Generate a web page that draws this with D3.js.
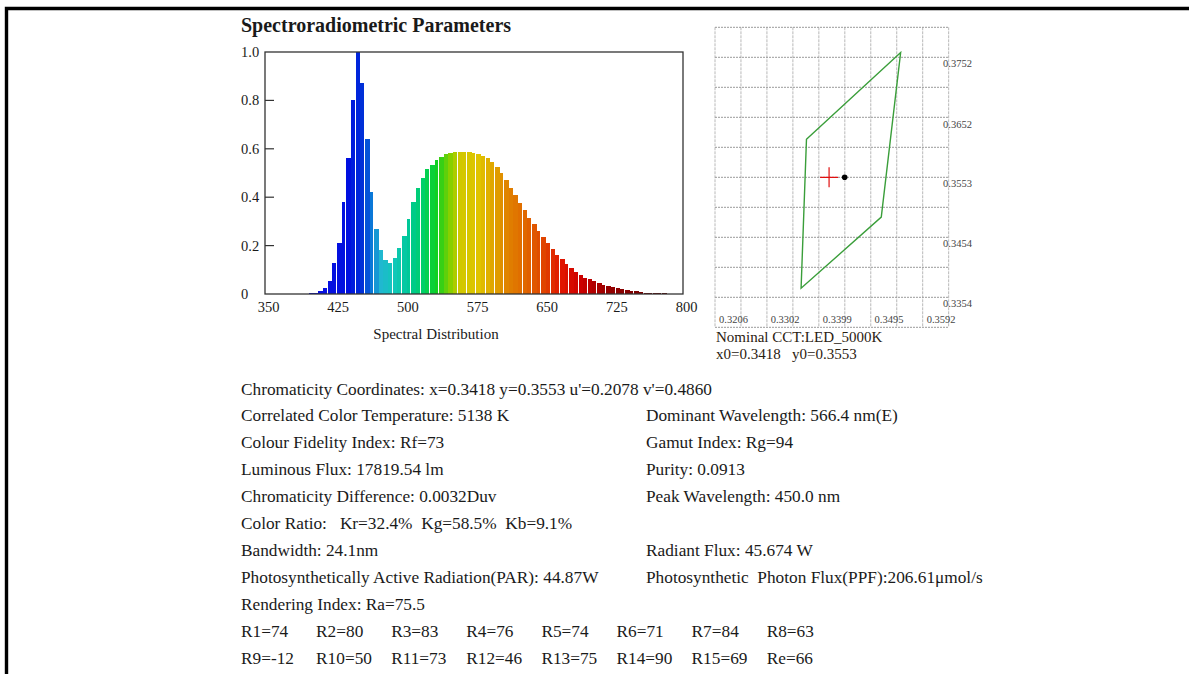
<!DOCTYPE html>
<html lang="en">
<head>
<meta charset="utf-8">
<title>Spectroradiometric Parameters</title>
<style>
  html, body { margin: 0; padding: 0; background: #fff; }
  svg text { font-family: "Liberation Serif", "Times New Roman", serif; fill: #1a1a1a; }
</style>
</head>
<body>
<svg id="chart" width="1189" height="674"></svg>
<script src="https://cdn.jsdelivr.net/npm/d3@7/dist/d3.min.js"></script>
<script>
// ---- spectrum (relative power, 5 nm steps) ----
var wavelengths = [380,385,390,395,400,405,410,415,420,425,430,435,440,445,450,455,460,465,470,475,
  480,485,490,495,500,505,510,515,520,525,530,535,540,545,550,555,560,565,570,575,
  580,585,590,595,600,605,610,615,620,625,630,635,640,645,650,655,660,665,670,675,
  680,685,690,695,700,705,710,715,720,725,730,735,740,745,750,755,760,765,770,775,780];
var power = [0.002,0.002,0.002,0.002,0.003,0.005,0.012,0.026,0.055,0.13,0.21,0.38,0.56,0.80,1.00,0.87,0.64,0.42,0.27,0.18,
  0.14,0.13,0.15,0.19,0.24,0.31,0.38,0.44,0.48,0.515,0.535,0.555,0.567,0.577,0.583,0.585,0.586,0.587,0.588,0.584,
  0.578,0.570,0.560,0.545,0.525,0.50,0.47,0.44,0.41,0.378,0.347,0.315,0.29,0.262,0.237,0.21,0.184,0.163,0.143,0.124,
  0.106,0.091,0.078,0.068,0.060,0.052,0.044,0.038,0.033,0.028,0.023,0.019,0.016,0.013,0.011,0.008,0.006,0.005,0.004,0.003,0.003];
var specXTicks = [350, 425, 500, 575, 650, 725, 800];
var specYTicks = [0, 0.2, 0.4, 0.6, 0.8, 1.0];

// wavelength -> colour stops
var colorStops = [380, 440, 455, 465, 475, 490, 505, 520, 535, 550, 560, 580, 595, 610, 630, 650, 670, 690, 720, 780];
var colorValues = ["#1010e0","#0010e0","#0030d8","#0a78d8","#20b8d0","#10c8b8","#00c898","#00d068","#10d020","#88d000",
  "#d0c800","#e0c400","#e0a800","#e08400","#e06800","#e04400","#e01400","#cc0000","#960000","#600000"];

// ---- chromaticity diagram ----
var cieXTicks = [0.3206, 0.3302, 0.3399, 0.3495, 0.3592];
var cieYTicks = [0.3354, 0.3454, 0.3553, 0.3652, 0.3752];
var quadrangle = [[0.3376, 0.3616], [0.3551, 0.3760], [0.3515, 0.3487], [0.3366, 0.3369]];
var measured = [0.3418, 0.3553];
var nominal = [0.3447, 0.3553];

// ---- parameter text ----
var leftLines = [
  "Chromaticity Coordinates: x=0.3418 y=0.3553 u'=0.2078 v'=0.4860",
  "Correlated Color Temperature: 5138 K",
  "Colour Fidelity Index: Rf=73",
  "Luminous Flux: 17819.54 lm",
  "Chromaticity Difference: 0.0032Duv",
  "Color Ratio:   Kr=32.4%  Kg=58.5%  Kb=9.1%",
  "Bandwidth: 24.1nm",
  "Photosynthetically Active Radiation(PAR): 44.87W",
  "Rendering Index: Ra=75.5"
];
var rightLines = [
  "",
  "Dominant Wavelength: 566.4 nm(E)",
  "Gamut Index: Rg=94",
  "Purity: 0.0913",
  "Peak Wavelength: 450.0 nm",
  "",
  "Radiant Flux: 45.674 W",
  "Photosynthetic  Photon Flux(PPF):206.61\u03bcmol/s",
  ""
];
var renderRow1 = ["R1=74","R2=80","R3=83","R4=76","R5=74","R6=71","R7=84","R8=63"];
var renderRow2 = ["R9=-12","R10=50","R11=73","R12=46","R13=75","R14=90","R15=69","Re=66"];

var svg = d3.select("#chart");

// page border (top and left)
svg.append("path")
  .attr("d", "M6.5,674 L6.5,8.5 L1189,8.5")
  .attr("fill", "none")
  .attr("stroke", "#000")
  .attr("stroke-width", 3.4);

// title
svg.append("text")
  .attr("x", 241).attr("y", 32)
  .style("font-size", "20px")
  .style("font-weight", "bold")
  .text("Spectroradiometric Parameters");

// ===== spectrum =====
var x = d3.scaleLinear().domain([350, 800]).range([265, 683]);
var y = d3.scaleLinear().domain([0, 1]).range([294, 52]);
var col = d3.scaleLinear().domain(colorStops).range(colorValues).clamp(true);

var bars = wavelengths.map(function (w, i) { return { w: w, v: power[i], i: i }; });
var half = 2.5;

svg.append("g")
  .selectAll("rect")
  .data(bars)
  .enter()
  .append("rect")
  .attr("x", function (d) { return x(d.w - half); })
  .attr("width", function (d) { return x(d.w + half) - x(d.w - half) - (d.i % 2 ? 0.9 : 0); })
  .attr("y", function (d) { return y(d.v); })
  .attr("height", function (d) { return y(0) - y(d.v); })
  .attr("fill", function (d) { return col(d.w); })
  .attr("shape-rendering", "crispEdges");

// frame
svg.append("rect")
  .attr("x", x(350)).attr("y", y(1))
  .attr("width", x(800) - x(350)).attr("height", y(0) - y(1))
  .attr("fill", "none")
  .attr("stroke", "#333")
  .attr("stroke-width", 1.3);

// y ticks (inside) and labels (left aligned)
svg.append("g").selectAll("line")
  .data(specYTicks.slice(1, -1))
  .enter().append("line")
  .attr("x1", x(350)).attr("x2", x(350) + 9)
  .attr("y1", function (d) { return y(d); }).attr("y2", function (d) { return y(d); })
  .attr("stroke", "#333").attr("stroke-width", 1.2);

svg.append("g").selectAll("text")
  .data(specYTicks)
  .enter().append("text")
  .attr("x", 241)
  .attr("y", function (d) { return y(d); })
  .attr("dy", "0.35em")
  .style("font-size", "14.5px")
  .text(function (d) { return d === 0 ? "0" : d.toFixed(1); });

svg.append("g").selectAll("text")
  .data(specXTicks)
  .enter().append("text")
  .attr("x", function (d) { return x(d) + 3.5; })
  .attr("y", 312)
  .attr("text-anchor", "middle")
  .style("font-size", "14.5px")
  .text(function (d) { return d; });

svg.append("text")
  .attr("x", 436).attr("y", 339)
  .attr("text-anchor", "middle")
  .style("font-size", "15px")
  .text("Spectral Distribution");

// ===== chromaticity diagram =====
var cx = d3.scaleLinear().domain([cieXTicks[0], cieXTicks[4]]).range([715, 922.7]);
var cy = d3.scaleLinear().domain([cieYTicks[0], cieYTicks[4]]).range([297.3, 57.3]);

var xStep = (cieXTicks[4] - cieXTicks[0]) / 8;
var yStep = (cieYTicks[4] - cieYTicks[0]) / 8;
var xGrid = d3.range(0, 10).map(function (k) { return cieXTicks[0] + k * xStep; });
var yGrid = d3.range(-1, 10).map(function (k) { return cieYTicks[0] + k * yStep; });

var grid = svg.append("g");
grid.selectAll(".vg")
  .data(xGrid)
  .enter().append("line")
  .attr("class", "vg")
  .attr("x1", function (d) { return cx(d); }).attr("x2", function (d) { return cx(d); })
  .attr("y1", cy(yGrid[yGrid.length - 1])).attr("y2", cy(yGrid[0]))
  .attr("stroke", "#b8b8b8")
  .attr("stroke-dasharray", "3,1")
  .attr("stroke-width", 1);
grid.selectAll(".hg")
  .data(yGrid)
  .enter().append("line")
  .attr("class", "hg")
  .attr("x1", cx(xGrid[0])).attr("x2", cx(xGrid[xGrid.length - 1]))
  .attr("y1", function (d) { return cy(d); }).attr("y2", function (d) { return cy(d); })
  .attr("stroke", "#9a9a9a")
  .attr("stroke-dasharray", "2,1")
  .attr("stroke-width", 1);

svg.append("g").selectAll("text")
  .data(cieXTicks)
  .enter().append("text")
  .attr("x", function (d) { return cx(d) + 4; })
  .attr("y", 323)
  .style("font-size", "10.5px")
  .style("fill", "#444")
  .text(function (d) { return d.toFixed(4); });

svg.append("g").selectAll("text")
  .data(cieYTicks)
  .enter().append("text")
  .attr("x", 943)
  .attr("y", function (d) { return cy(d) + 10; })
  .style("font-size", "10.5px")
  .style("fill", "#444")
  .text(function (d) { return d.toFixed(4); });

svg.append("path")
  .datum(quadrangle)
  .attr("d", d3.line().x(function (d) { return cx(d[0]); }).y(function (d) { return cy(d[1]); }).curve(d3.curveLinearClosed))
  .attr("fill", "none")
  .attr("stroke", "#3a9e3a")
  .attr("stroke-width", 1.4);

// measured point (red cross)
var mx = cx(measured[0]), my = cy(measured[1]);
svg.append("path")
  .attr("d", "M" + (mx - 9) + "," + my + "H" + (mx + 9) + "M" + mx + "," + (my - 10) + "V" + (my + 10))
  .attr("stroke", "#e01010")
  .attr("stroke-width", 1.2)
  .attr("fill", "none");

svg.append("circle")
  .attr("cx", cx(nominal[0])).attr("cy", cy(nominal[1]))
  .attr("r", 2.8)
  .attr("fill", "#000");

svg.append("text")
  .attr("x", 716).attr("y", 342)
  .style("font-size", "15px")
  .style("fill", "#2a2010")
  .text("Nominal CCT:LED_5000K");
svg.append("text")
  .attr("x", 716).attr("y", 359)
  .style("font-size", "15px")
  .style("fill", "#2a2010")
  .attr("xml:space", "preserve")
  .style("white-space", "pre")
  .text("x0=" + measured[0].toFixed(4) + "   y0=" + measured[1].toFixed(4));

// ===== parameter text =====
var rowY = function (i) { return 388.5 + i * 26.9; };
var txt = svg.append("g").style("font-size", "17.3px");

txt.selectAll(".lt")
  .data(leftLines)
  .enter().append("text")
  .attr("class", "lt")
  .attr("x", 241)
  .attr("y", function (d, i) { return rowY(i); })
  .attr("dy", "0.35em")
  .style("white-space", "pre")
  .text(function (d) { return d; });

txt.selectAll(".rt")
  .data(rightLines)
  .enter().append("text")
  .attr("class", "rt")
  .attr("x", 646)
  .attr("y", function (d, i) { return rowY(i); })
  .attr("dy", "0.35em")
  .style("white-space", "pre")
  .text(function (d) { return d; });

[renderRow1, renderRow2].forEach(function (row, r) {
  txt.selectAll(".r" + r)
    .data(row)
    .enter().append("text")
    .attr("class", "r" + r)
    .attr("x", function (d, i) { return 241 + i * 75.1; })
    .attr("y", rowY(9 + r))
    .attr("dy", "0.35em")
    .text(function (d) { return d; });
});
</script>
</body>
</html>
